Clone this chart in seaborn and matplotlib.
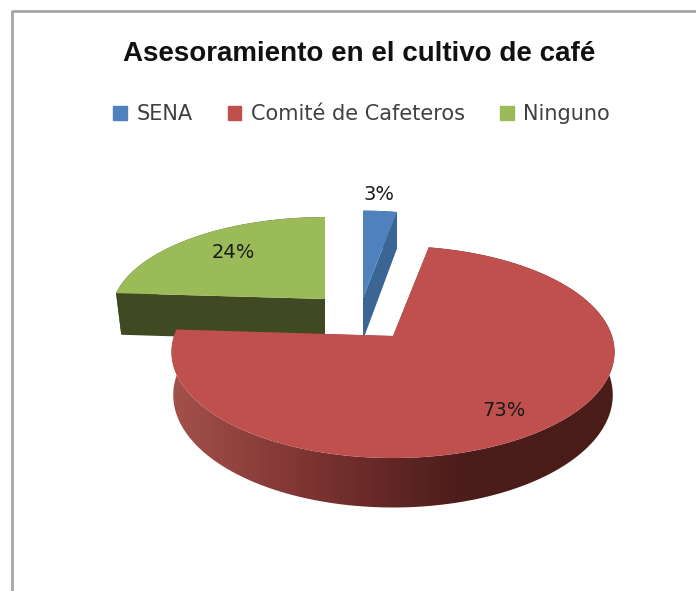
import matplotlib.pyplot as plt
import numpy as np
import seaborn as sns
from matplotlib.colors import LinearSegmentedColormap
from matplotlib.patches import Patch, Polygon

categories = ["SENA", "Comité de Cafeteros", "Ninguno"]
shares = [3, 73, 24]
labels = ["3%", "73%", "24%"]
title = "Asesoramiento en el cultivo de café"

top_colors = ["#4F81BD", "#C0504D", "#9BBB59"]
cut_colors = ["#3A6594", "#8F3B39", "#3F4A22"]

# pixel layout of the exploded slices: apex x, apex y, x scale, y scale, bottom rim shrink
slice_layout = [
    (363, 298, 0.95, 0.97, 1.0),
    (393, 336, 1.0, 1.0, 0.992),
    (325, 299, 0.965, 0.91, 0.975),
]
RX, RY, PERSP, DEPTH = 219, 103.6, 0.151, 42

sns.set_theme(style="white")
plt.rcParams["font.family"] = ["DejaVu Sans"]

wall_cmap = LinearSegmentedColormap.from_list("wall", ["#A5514B", "#7A3230", "#4A1C1A", "#4A1C1A"])


def project(angle, layout, drop=0.0):
    # angle runs clockwise from 12 o'clock, circle gets squashed in perspective
    ax0, ay0, sx, sy, low = layout
    u, v = np.sin(angle), np.cos(angle)
    w = 1 + PERSP * v
    shrink = low if drop else 1.0
    return ax0 + shrink * sx * RX * u / w, ay0 - sy * RY * v / w + drop / w


def draw_slice(ax, start, end, top, cut, layout, shaded=False):
    angles = np.linspace(start, end, 240)
    x_top, y_top = project(angles, layout)
    x_low, y_low = project(angles, layout, DEPTH)
    ax0, ay0 = layout[:2]

    # cut faces towards the viewer
    for idx in (0, -1):
        ax.fill(
            [ax0, x_top[idx], x_low[idx], ax0],
            [ay0, y_top[idx], y_low[idx], ay0 + DEPTH],
            color=cut, lw=0,
        )

    # outer wall, darker towards the right like the office 3d shading
    wall = Polygon(np.c_[np.r_[x_top, x_low[::-1]], np.r_[y_top, y_low[::-1]]], closed=True, transform=ax.transData)
    if shaded:
        gradient = np.linspace(0, 1, 256)[None, :]
        img = ax.imshow(
            gradient, cmap=wall_cmap, aspect="auto", zorder=1,
            extent=(x_top.min() - 2, x_top.max() + 2, y_low.max() + 2, y_top.min() - 2),
        )
        img.set_clip_path(wall)
    else:
        wall.set(color=cut, lw=0, zorder=1)
        ax.add_patch(wall)

    ax.fill(np.r_[ax0, x_top], np.r_[ay0, y_top], color=top, lw=0, zorder=1)


fig, ax = plt.subplots(figsize=(6.96, 5.91), dpi=100)
fig.subplots_adjust(0, 0, 1, 1)
ax.axis("off")

# outer chart frame, only top and left are inside the crop
ax.plot([12, 12, 696], [591, 11, 11], color="#A6A6A6", lw=2.0)

edges = np.r_[0, np.cumsum(shares)] / sum(shares) * 2 * np.pi
for i in [2, 0, 1]:
    draw_slice(ax, edges[i], edges[i + 1], top_colors[i], cut_colors[i], slice_layout[i], shaded=i == 1)
ax.set_xlim(0, 696)
ax.set_ylim(591, 0)

label_pos = [(379, 194), (504, 410), (233, 252)]
for text, (lx, ly) in zip(labels, label_pos):
    ax.text(lx, ly, text, ha="center", va="center", fontsize=14, color="#1A1A1A", zorder=3)

ax.text(359, 54, title, ha="center", va="center", fontsize=20, fontweight="bold",
        family="Liberation Sans", color="#111111")

handles = [Patch(color=c) for c in top_colors]
ax.legend(
    handles, categories, ncol=3, loc="center", bbox_to_anchor=(361.5 / 696, 1 - 114 / 591),
    frameon=False, fontsize=15, handlelength=0.65, handleheight=0.65, handletextpad=0.45,
    columnspacing=1.7, labelcolor="#404040",
)

fig.savefig("out.png", dpi=100)
plt.close(fig)
